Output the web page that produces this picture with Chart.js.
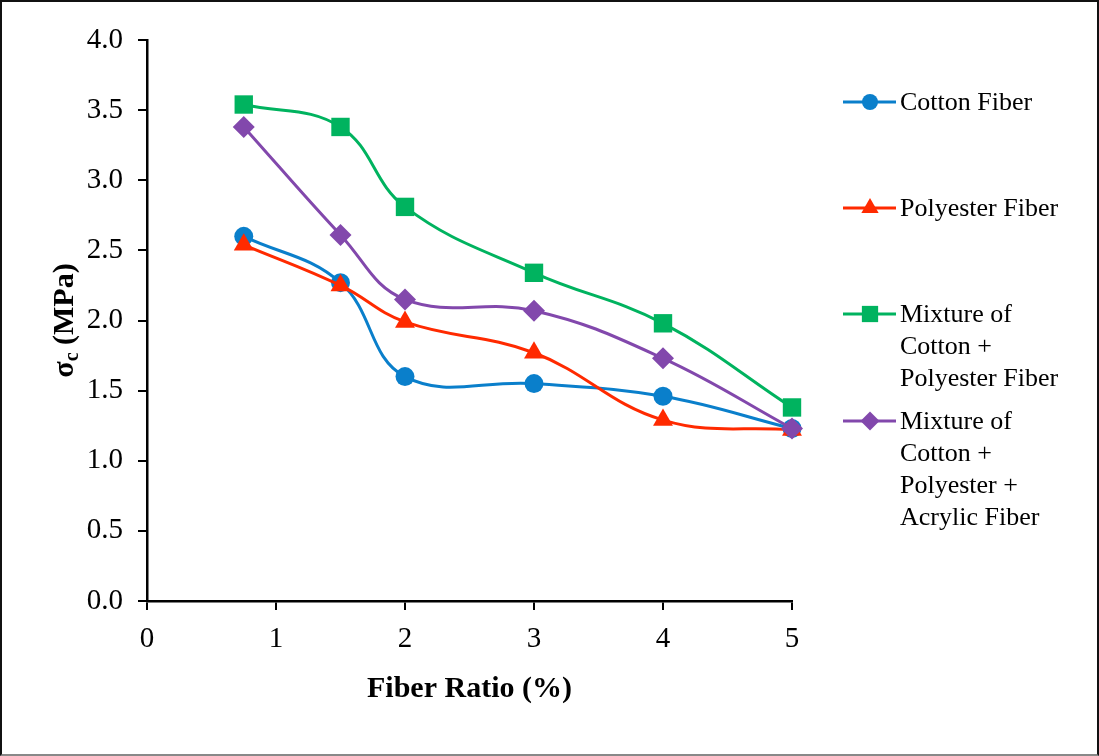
<!DOCTYPE html>
<html>
<head>
<meta charset="utf-8">
<script src="https://cdn.jsdelivr.net/npm/chart.js@4/dist/chart.umd.min.js"></script>
<style>
  html, body { margin: 0; padding: 0; background: #fff; }
  #marco { width: 1099px; height: 756px; box-sizing: border-box; border: 2px solid #111; border-bottom-color: #888; background: #fff; }
  canvas { display: block; }
</style>
</head>
<body>
<div id="marco"><canvas id="grafico" width="1095" height="752"></canvas></div>
<script>
// Resistencia a compresión vs. proporción de fibra.
const fiberRatio = [0.75, 1.5, 2, 3, 4, 5];
const cotton     = [2.60, 2.27, 1.60, 1.55, 1.46, 1.23];
const polyester  = [2.54, 2.25, 1.99, 1.77, 1.29, 1.22];
const mixCP      = [3.54, 3.38, 2.81, 2.34, 1.98, 1.38];
const mixCPA     = [3.38, 2.61, 2.15, 2.07, 1.73, 1.23];

const seriesNames = ['Cotton Fiber', 'Polyester Fiber', 'Mixture of Cotton + Polyester Fiber', 'Mixture of Cotton + Polyester + Acrylic Fiber'];
// cómo se parte cada etiqueta en la leyenda
const legendLines = [
  ['Cotton Fiber'],
  ['Polyester Fiber'],
  ['Mixture of', 'Cotton +', 'Polyester Fiber'],
  ['Mixture of', 'Cotton +', 'Polyester +', 'Acrylic Fiber'],
];
const xTicks = [0, 1, 2, 3, 4, 5];
const yTicks = [0, 0.5, 1, 1.5, 2, 2.5, 3, 3.5, 4];

const FUENTE = '"Liberation Serif", "Times New Roman", serif';
const COLORES = ['#0A7FCB', '#FF2A00', '#00B35F', '#8248AC'];
const ESTILOS = ['circle', 'triangle', 'rect', 'rectRot'];
const RADIOS  = [9.5, 11.5, 13, 11];

const AREA = { left: 145, right: 790, top: 38, bottom: 599 };

function puntos(ys) { return fiberRatio.map((x, i) => ({ x, y: ys[i] })); }

function serie(i, ys, orden) {
  return {
    label: seriesNames[i], data: puntos(ys),
    borderColor: COLORES[i], backgroundColor: COLORES[i],
    borderWidth: 3, tension: 0.4, clip: false,
    pointStyle: ESTILOS[i], pointRadius: RADIOS[i], pointBorderWidth: 0,
    pointBackgroundColor: COLORES[i], order: orden,
  };
}

// dibuja un marcador igual que los del gráfico (para la leyenda)
function marcador(ctx, estilo, r, x, y) {
  ctx.beginPath();
  if (estilo === 'circle') ctx.arc(x, y, r, 0, Math.PI * 2);
  else if (estilo === 'rect') { const s = r / Math.SQRT2; ctx.rect(x - s, y - s, 2 * s, 2 * s); }
  else if (estilo === 'rectRot') { ctx.moveTo(x, y - r); ctx.lineTo(x + r, y); ctx.lineTo(x, y + r); ctx.lineTo(x - r, y); ctx.closePath(); }
  else if (estilo === 'triangle') {
    for (let k = 0; k < 3; k++) {
      const a = -Math.PI / 2 + k * 2 * Math.PI / 3;
      k ? ctx.lineTo(x + r * Math.cos(a), y + r * Math.sin(a)) : ctx.moveTo(x + r * Math.cos(a), y + r * Math.sin(a));
    }
    ctx.closePath();
  }
  ctx.fill();
}

const leyendaPlugin = {
  id: 'leyenda',
  afterDraw(chart, args, opts) {
    const ctx = chart.ctx;
    ctx.save();
    ctx.font = '26px ' + FUENTE;
    ctx.textBaseline = 'middle';
    legendLines.forEach((lineas, i) => {
      const y = opts.ys[i];
      ctx.strokeStyle = COLORES[i];
      ctx.fillStyle = COLORES[i];
      ctx.lineWidth = 3;
      ctx.beginPath(); ctx.moveTo(opts.x, y); ctx.lineTo(opts.x + 53, y); ctx.stroke();
      marcador(ctx, ESTILOS[i], RADIOS[i] - 1.5, opts.x + 27, y);
      ctx.fillStyle = '#000';
      lineas.forEach((t, j) => ctx.fillText(t, opts.x + 57, y + 1 + j * 32));
    });
    ctx.restore();
  }
};

const titulosPlugin = {
  id: 'titulos',
  afterDraw(chart) {
    const { ctx, chartArea } = chart;
    ctx.save();
    ctx.fillStyle = '#000';
    ctx.textBaseline = 'middle';
    ctx.textAlign = 'center';
    ctx.font = 'bold 30px ' + FUENTE;
    ctx.fillText('Fiber Ratio (%)', (chartArea.left + chartArea.right) / 2, chartArea.bottom + 88);

    // σc (MPa) girado, con subíndice
    ctx.translate(chartArea.left - 82, (chartArea.top + chartArea.bottom) / 2);
    ctx.rotate(-Math.PI / 2);
    ctx.textAlign = 'left';
    const grande = 'bold 30px ' + FUENTE, chico = 'bold 20px ' + FUENTE;
    ctx.font = grande; const w1 = ctx.measureText('σ').width;
    ctx.font = chico;  const w2 = ctx.measureText('c').width;
    ctx.font = grande; const w3 = ctx.measureText(' (MPa)').width;
    let x = -(w1 + w2 + w3) / 2;
    ctx.font = grande; ctx.fillText('σ', x, 0); x += w1;
    ctx.font = chico;  ctx.fillText('c', x, 8); x += w2;
    ctx.font = grande; ctx.fillText(' (MPa)', x, 0);
    ctx.restore();
  }
};

new Chart(document.getElementById('grafico'), {
  type: 'line',
  data: {
    datasets: [
      serie(0, cotton, 3),
      serie(1, polyester, 2),
      serie(2, mixCP, 1),
      serie(3, mixCPA, 0),
    ],
  },
  options: {
    responsive: false, animation: false,
    layout: { padding: { top: AREA.top, right: 1095 - AREA.right, left: 0, bottom: 0 } },
    plugins: {
      legend: { display: false }, tooltip: { enabled: false },
      leyenda: { x: 841, ys: [100, 206, 312, 419] },
    },
    scales: {
      x: {
        type: 'linear', min: 0, max: 5,
        afterFit(s) { s.height = 752 - AREA.bottom; },
        afterBuildTicks(s) { s.ticks = xTicks.map(v => ({ value: v })); },
        grid: { drawOnChartArea: false, color: '#000', lineWidth: 2, tickLength: 9 },
        border: { color: '#000', width: 2.5 },
        ticks: { color: '#000', padding: 12, font: { family: FUENTE, size: 29 }, callback: v => String(v) },
      },
      y: {
        min: 0, max: 4,
        afterFit(s) { s.width = AREA.left; },
        afterBuildTicks(s) { s.ticks = yTicks.map(v => ({ value: v })); },
        grid: { drawOnChartArea: false, color: '#000', lineWidth: 2, tickLength: 9 },
        border: { color: '#000', width: 2.5 },
        ticks: { color: '#000', padding: 15, font: { family: FUENTE, size: 29 }, callback: v => Number(v).toFixed(1) },
      },
    },
  },
  plugins: [leyendaPlugin, titulosPlugin],
});
</script>
</body>
</html>
